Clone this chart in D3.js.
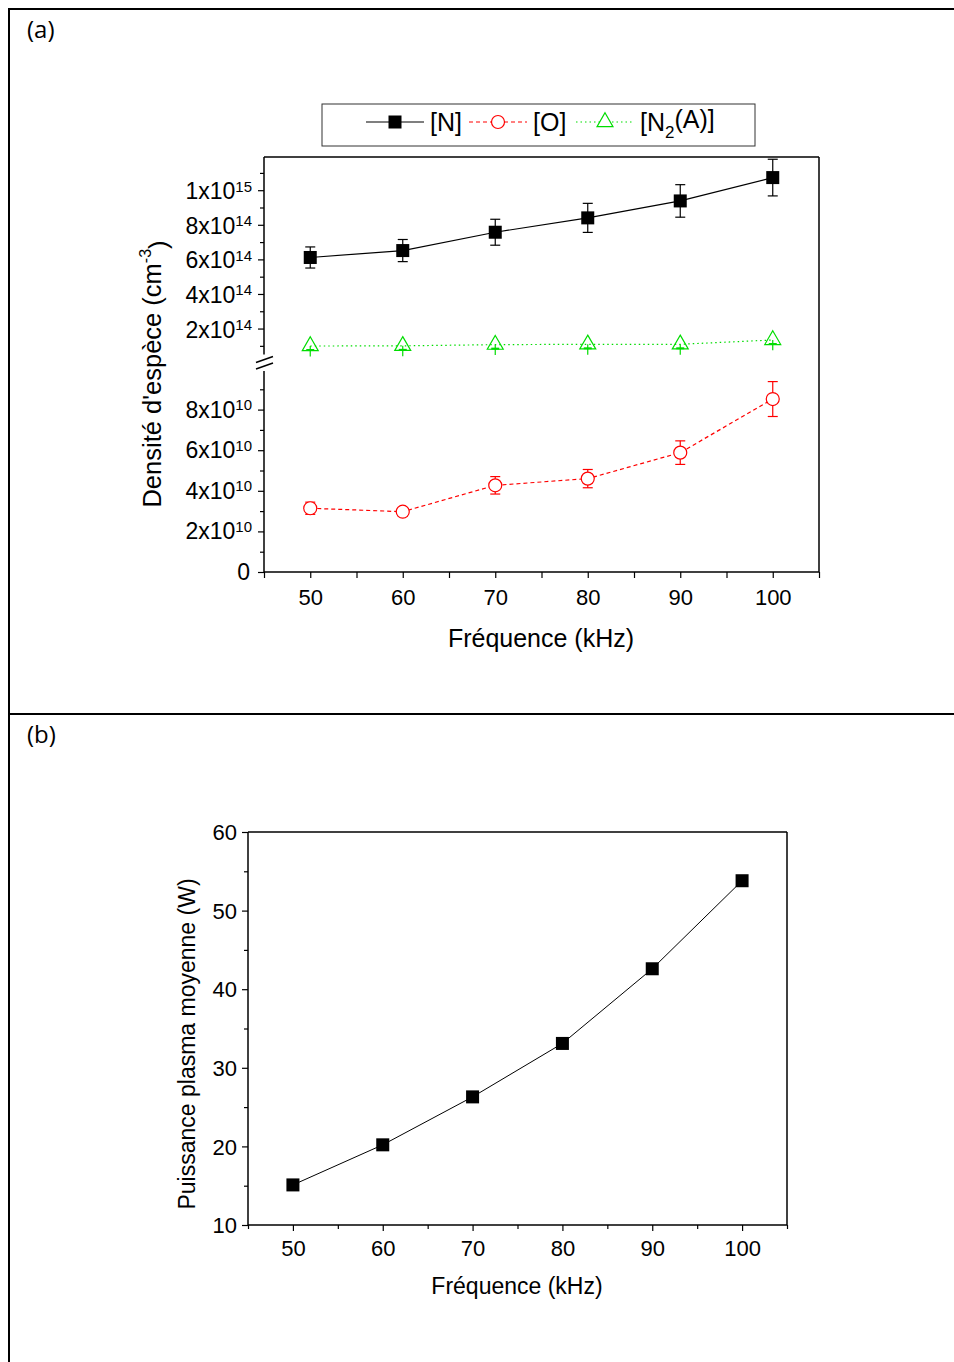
<!DOCTYPE html>
<html><head><meta charset="utf-8">
<script src="https://cdn.jsdelivr.net/npm/d3@7"></script>
<style>
html,body{margin:0;padding:0;background:#fff;}
svg text{font-family:"Liberation Sans",Arial,Helvetica,sans-serif;fill:#000;}
</style></head>
<body>
<svg id="c" width="954" height="1362"></svg>
<script>
// ---------- data ----------
const freq = [50, 60, 70, 80, 90, 100];
const densN = [6.11e14, 6.51e14, 7.57e14, 8.40e14, 9.38e14, 1.073e15];
const errN = [0.61e14, 0.64e14, 0.75e14, 0.84e14, 0.94e14, 1.06e14];
const densO = [3.14e10, 2.97e10, 4.27e10, 4.60e10, 5.88e10, 8.52e10];
const errO = [0.30e10, 0.20e10, 0.43e10, 0.45e10, 0.58e10, 0.86e10];
const densN2A = [0.99e14, 1.0e14, 1.07e14, 1.09e14, 1.09e14, 1.34e14];
const errN2A = [0.6e14, 0.6e14, 0.6e14, 0.6e14, 0.6e14, 0.6e14];
const power = [15.1, 20.2, 26.3, 33.1, 42.6, 53.8];
const xTicks = [50, 60, 70, 80, 90, 100];
const upperTicks = [2e14, 4e14, 6e14, 8e14, 1e15];
const lowerTicks = [0, 2e10, 4e10, 6e10, 8e10];
const powerTicks = [10, 20, 30, 40, 50, 60];
const legendLabels = ["[N]", "[O]", "[N2(A)]"];

const svg = d3.select("#c");
const FONT = "'Liberation Sans',Arial,Helvetica,sans-serif";

// ---------- page frame ----------
svg.append("line").attr("x1", 8).attr("x2", 954).attr("y1", 9).attr("y2", 9).attr("stroke", "#000").attr("stroke-width", 2);
svg.append("line").attr("x1", 9).attr("x2", 9).attr("y1", 8).attr("y2", 1362).attr("stroke", "#000").attr("stroke-width", 2);
svg.append("line").attr("x1", 9).attr("x2", 954).attr("y1", 714).attr("y2", 714).attr("stroke", "#000").attr("stroke-width", 2);
svg.append("text").attr("x", 27).attr("y", 38).style("font-family", "'Open Sans',sans-serif").style("font-size", "24px").text("(a)");
svg.append("text").attr("x", 27).attr("y", 743).style("font-family", "'Open Sans',sans-serif").style("font-size", "24px").text("(b)");

// ---------- panel (a) ----------
const xA = d3.scaleLinear().domain([45, 105]).range([264, 819]);
const yUp = d3.scaleLinear().domain([0.5e14, 1.192e15]).range([354.5, 157]);
const yLo = d3.scaleLinear().domain([0, 1e11]).range([572, 369]);
const aL = 264, aR = 819, aT = 157, aB = 572;
const gA = svg.append("g");

// frame
gA.append("line").attr("x1", aL).attr("x2", aR).attr("y1", aT).attr("y2", aT).attr("stroke", "#000").attr("stroke-width", 1.5);
gA.append("line").attr("x1", aR).attr("x2", aR).attr("y1", aT).attr("y2", aB).attr("stroke", "#000").attr("stroke-width", 1.5);

// x axis
const xAxisA = d3.axisBottom(xA).tickValues(d3.range(45, 106, 5)).tickSize(6).tickFormat(d => xTicks.includes(d) ? d : "");
const gx = gA.append("g").attr("transform", `translate(0,${aB})`).call(xAxisA);
gx.attr("font-family", null);
gx.select(".domain").attr("stroke-width", 1.5).attr("d", `M${aL},0H${aR}`);
gx.selectAll(".tick line").attr("stroke-width", 1.2);
gx.selectAll(".tick text").style("font-size", "22px").attr("y", 17).attr("dy", "0.71em").style("font-family", FONT);

// y axes (two segments around the break)
function supLabel(sel, v) {
  if (v === 0) { sel.text("0"); return; }
  const e = Math.floor(Math.log10(v) + 1e-9);
  const m = Math.round(v / Math.pow(10, e));
  sel.text(null);
  sel.append("tspan").text(m + "x10");
  sel.append("tspan").attr("dy", "-0.5em").style("font-size", "15px").text(e);
}
const gyU = gA.append("g").attr("transform", `translate(${aL},0)`)
  .call(d3.axisLeft(yUp).tickValues(d3.range(1e14, 1.2e15, 1e14)).tickSize(6).tickFormat(""));
gyU.select(".domain").attr("d", `M0,${aT}V${yUp(0.5e14)}`).attr("stroke-width", 1.5);
gyU.selectAll(".tick line").attr("stroke-width", 1.2).attr("x2", d => (Math.round(d / 1e14) % 2 === 0 ? -6 : -4));
const gyL = gA.append("g").attr("transform", `translate(${aL},0)`)
  .call(d3.axisLeft(yLo).tickValues(d3.range(0, 1.0e11, 1e10)).tickSize(6).tickFormat(""));
gyL.select(".domain").attr("d", `M0,${yLo(1e11) + 2}V${aB}`).attr("stroke-width", 1.5);
gyL.selectAll(".tick line").attr("stroke-width", 1.2).attr("x2", d => (Math.round(d / 1e10) % 2 === 0 ? -6 : -4));

upperTicks.forEach(v => {
  const t = gA.append("text").attr("x", 252).attr("y", yUp(v) + 9).attr("text-anchor", "end").style("font-size", "23px");
  supLabel(t, v);
});
lowerTicks.forEach(v => {
  const t = gA.append("text").attr("x", v === 0 ? 250 : 252).attr("y", yLo(v) + 8).attr("text-anchor", "end").style("font-size", "23px");
  supLabel(t, v);
});

// axis break marks
const bY1 = yUp(0.5e14) + 4, bY2 = yLo(1e11) - 2;
gA.append("line").attr("x1", aL - 8).attr("x2", aL + 9).attr("y1", bY1 + 4).attr("y2", bY1 - 2).attr("stroke", "#000").attr("stroke-width", 1.5);
gA.append("line").attr("x1", aL - 8).attr("x2", aL + 9).attr("y1", bY2 + 2).attr("y2", bY2 - 4).attr("stroke", "#000").attr("stroke-width", 1.5);

// axis titles
const yl = gA.append("text").attr("transform", "translate(161,374) rotate(-90)").attr("text-anchor", "middle").style("font-size", "25.5px");
yl.append("tspan").text("Densité d'espèce (cm");
yl.append("tspan").attr("dy", "-0.6em").style("font-size", "16px").text("-3");
yl.append("tspan").attr("dy", "0.6em").text(")");
gA.append("text").attr("x", 541).attr("y", 647).attr("text-anchor", "middle").style("font-size", "25px").text("Fréquence (kHz)");

// series lines
const lineUp = d3.line().x((d, i) => xA(freq[i])).y(d => yUp(d));
const lineLo = d3.line().x((d, i) => xA(freq[i])).y(d => yLo(d));
gA.append("path").datum(densN).attr("d", lineUp).attr("fill", "none").attr("stroke", "#000").attr("stroke-width", 1.2);
gA.append("path").datum(densN2A).attr("d", lineUp).attr("fill", "none").attr("stroke", "#00dd00").attr("stroke-width", 1.2).attr("stroke-dasharray", "1.5,3");
gA.append("path").datum(densO).attr("d", lineLo).attr("fill", "none").attr("stroke", "#ff0000").attr("stroke-width", 1.2).attr("stroke-dasharray", "4,3");

function errBars(vals, errs, ys, color, onlyDown) {
  vals.forEach((v, i) => {
    const x = xA(freq[i]);
    const yT = onlyDown ? ys(v) : ys(v + errs[i]);
    const yBt = ys(v - errs[i]);
    gA.append("line").attr("x1", x).attr("x2", x).attr("y1", yT).attr("y2", yBt).attr("stroke", color).attr("stroke-width", 1.2);
    if (!onlyDown) {
      gA.append("line").attr("x1", x - 5).attr("x2", x + 5).attr("y1", yT).attr("y2", yT).attr("stroke", color).attr("stroke-width", 1.2);
      gA.append("line").attr("x1", x - 5).attr("x2", x + 5).attr("y1", yBt).attr("y2", yBt).attr("stroke", color).attr("stroke-width", 1.2);
    } else {
      gA.append("line").attr("x1", x - 4).attr("x2", x + 4).attr("y1", ys(v) + 4).attr("y2", ys(v) + 4).attr("stroke", color).attr("stroke-width", 2);
    }
  });
}
errBars(densN, errN, yUp, "#000", false);
errBars(densO, errO, yLo, "#ff0000", false);
errBars(densN2A, errN2A, yUp, "#00dd00", true);

gA.selectAll(".sqN").data(densN).enter().append("rect")
  .attr("x", (d, i) => xA(freq[i]) - 6.5).attr("y", d => yUp(d) - 6.5).attr("width", 13).attr("height", 13).attr("fill", "#000");
gA.selectAll(".ciO").data(densO).enter().append("circle")
  .attr("cx", (d, i) => xA(freq[i])).attr("cy", d => yLo(d)).attr("r", 6.5).attr("fill", "#fff").attr("stroke", "#ff0000").attr("stroke-width", 1.2);
const tri = d3.symbol().type(d3.symbolTriangle).size(110);
gA.selectAll(".trN").data(densN2A).enter().append("path")
  .attr("d", tri).attr("transform", (d, i) => `translate(${xA(freq[i])},${yUp(d)})`)
  .attr("fill", "none").attr("stroke", "#00dd00").attr("stroke-width", 1.2);

// legend
const lg = gA.append("g");
lg.append("rect").attr("x", 322).attr("y", 104).attr("width", 433).attr("height", 42).attr("fill", "#fff").attr("stroke", "#333").attr("stroke-width", 1);
const legItems = [
  {x: 366, label: legendLabels[0], color: "#000", dash: null, sym: "sq"},
  {x: 469, label: legendLabels[1], color: "#ff0000", dash: "4,3", sym: "ci"},
  {x: 576, label: legendLabels[2], color: "#00dd00", dash: "1.5,3", sym: "tr"}
];
legItems.forEach(it => {
  const cy = 122, w = 58;
  lg.append("line").attr("x1", it.x).attr("x2", it.x + w).attr("y1", cy).attr("y2", cy).attr("stroke", it.color).attr("stroke-width", 1.2).attr("stroke-dasharray", it.dash);
  const cx = it.x + w / 2;
  if (it.sym === "sq") lg.append("rect").attr("x", cx - 6.5).attr("y", cy - 6.5).attr("width", 13).attr("height", 13).attr("fill", "#000");
  if (it.sym === "ci") lg.append("circle").attr("cx", cx).attr("cy", cy).attr("r", 6.5).attr("fill", "#fff").attr("stroke", it.color).attr("stroke-width", 1.2);
  if (it.sym === "tr") lg.append("path").attr("d", tri).attr("transform", `translate(${cx},${cy})`).attr("fill", "#fff").attr("stroke", it.color).attr("stroke-width", 1.2);
  const t = lg.append("text").attr("x", it.x + w + 6).attr("y", cy + 9).style("font-size", "25px");
  if (it.label === "[N2(A)]") {
    t.append("tspan").text("[N");
    t.append("tspan").attr("dy", "0.4em").style("font-size", "17px").text("2");
    t.append("tspan").attr("dy", "-0.4em").text("(A)]");
  } else t.text(it.label);
});

// ---------- panel (b) ----------
const xB = d3.scaleLinear().domain([45, 105]).range([248, 787]);
const yB = d3.scaleLinear().domain([10, 60]).range([1225, 832]);
const gB = svg.append("g");
gB.append("line").attr("x1", 248).attr("x2", 787).attr("y1", 832).attr("y2", 832).attr("stroke", "#000").attr("stroke-width", 1.5);
gB.append("line").attr("x1", 787).attr("x2", 787).attr("y1", 832).attr("y2", 1225).attr("stroke", "#000").attr("stroke-width", 1.5);
const gxB = gB.append("g").attr("transform", "translate(0,1225)")
  .call(d3.axisBottom(xB).tickValues(d3.range(45, 106, 5)).tickSize(6).tickFormat(d => xTicks.includes(d) ? d : ""));
gxB.attr("font-family", null);
gxB.select(".domain").attr("d", "M248,0H787").attr("stroke-width", 1.5);
gxB.selectAll(".tick line").attr("stroke-width", 1.2).attr("y2", d => (d % 10 === 0 ? 6 : 4));
gxB.selectAll(".tick text").style("font-size", "22px").attr("y", 15).attr("dy", "0.71em").style("font-family", FONT);
const gyB = gB.append("g").attr("transform", "translate(248,0)")
  .call(d3.axisLeft(yB).tickValues(d3.range(10, 61, 5)).tickSize(6).tickFormat(d => powerTicks.includes(d) ? d : ""));
gyB.attr("font-family", null);
gyB.select(".domain").attr("d", "M0,832V1225").attr("stroke-width", 1.5);
gyB.selectAll(".tick line").attr("stroke-width", 1.2).attr("x2", d => (d % 10 === 0 ? -6 : -4));
gyB.selectAll(".tick text").style("font-size", "22px").attr("x", -11).attr("dy", "0.35em").style("font-family", FONT);
gB.append("text").attr("transform", "translate(195,1044) rotate(-90)").attr("text-anchor", "middle").style("font-size", "23px").text("Puissance plasma moyenne (W)");
gB.append("text").attr("x", 517).attr("y", 1294).attr("text-anchor", "middle").style("font-size", "23px").text("Fréquence (kHz)");
gB.append("path").datum(power).attr("d", d3.line().x((d, i) => xB(freq[i])).y(d => yB(d))).attr("fill", "none").attr("stroke", "#000").attr("stroke-width", 1);
gB.selectAll(".sqP").data(power).enter().append("rect")
  .attr("x", (d, i) => xB(freq[i]) - 6.5).attr("y", d => yB(d) - 6.5).attr("width", 13).attr("height", 13).attr("fill", "#000");
</script>
</body></html>
